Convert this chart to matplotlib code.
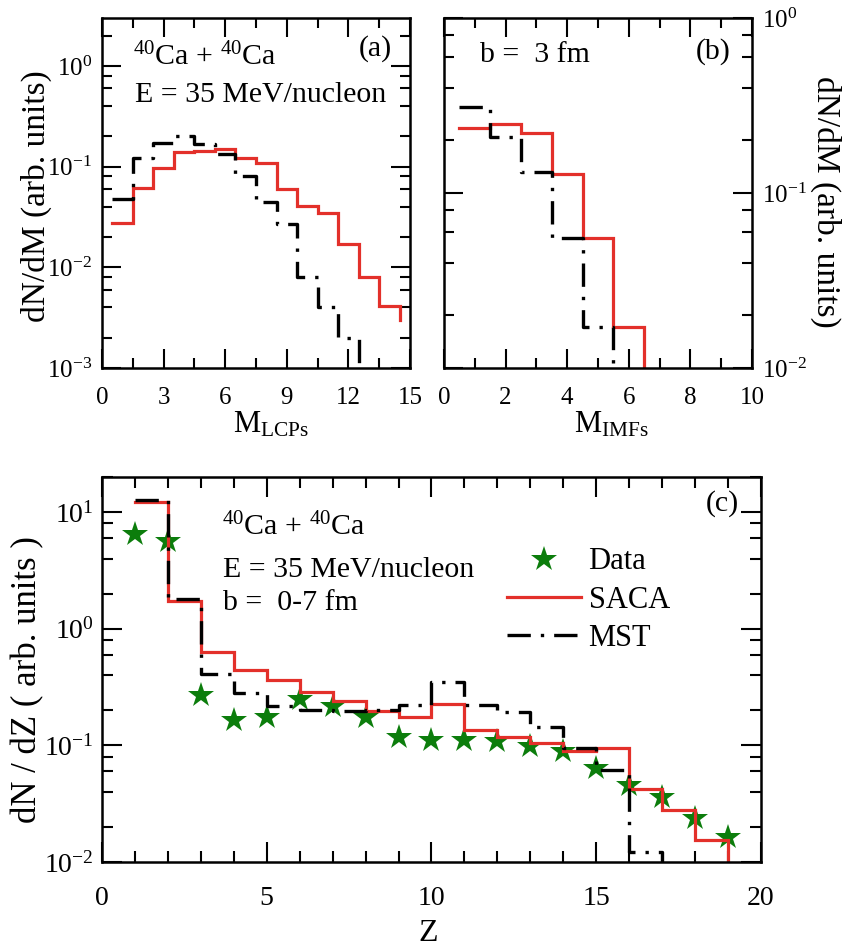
import numpy as np
import matplotlib
matplotlib.use("Agg")
import matplotlib.pyplot as plt
from matplotlib.ticker import LogLocator, MultipleLocator, NullFormatter, LogFormatterSciNotation

plt.rcParams["font.family"] = ["Liberation Serif", "DejaVu Serif"]
plt.rcParams["mathtext.fontset"] = "custom"
plt.rcParams["mathtext.rm"] = "Liberation Serif"
plt.rcParams["mathtext.it"] = "Liberation Serif:italic"
plt.rcParams["mathtext.bf"] = "Liberation Serif:bold"
plt.rcParams["axes.unicode_minus"] = False

# ---- multiplicity of light charged particles, b = 3 fm ----
lcp_saca_m = [1, 2, 3, 4, 5, 6, 7, 8, 9, 10, 11, 12, 13, 14, 15]
lcp_saca = [0.0277, 0.062, 0.098, 0.140, 0.144, 0.151, 0.123, 0.108,
            0.0605, 0.0406, 0.0348, 0.0172, 0.0081, 0.0041, 0.003]
lcp_mst_m = [1, 2, 3, 4, 5, 6, 7, 8, 9, 10, 11, 12, 13]
lcp_mst = [0.048, 0.123, 0.174, 0.200, 0.167, 0.133, 0.081, 0.0445,
           0.0267, 0.0081, 0.0040, 0.00198, 0.0005]

# ---- multiplicity of intermediate mass fragments, b = 3 fm ----
imf_saca_m = [1, 2, 3, 4, 5, 6, 7]
imf_saca = [0.234, 0.247, 0.219, 0.128, 0.055, 0.0171, 0.005]
imf_mst_m = [1, 2, 3, 4, 5, 6]
imf_mst = [0.311, 0.208, 0.132, 0.055, 0.0172, 0.005]

# ---- charge distribution, b = 0-7 fm ----
z_data = [1, 2, 3, 4, 5, 6, 7, 8, 9, 10, 11, 12, 13, 14, 15, 16, 17, 18, 19]
dndz_data = [6.47, 5.66, 0.272, 0.166, 0.174, 0.250, 0.216, 0.174, 0.117,
             0.112, 0.112, 0.110, 0.099, 0.090, 0.0638, 0.0458, 0.0364,
             0.0237, 0.0165]
z_saca = [1, 2, 3, 4, 5, 6, 7, 8, 9, 10, 11, 12, 13, 14, 15, 16, 17, 18, 19]
dndz_saca = [12.3, 1.73, 0.634, 0.447, 0.362, 0.287, 0.239, 0.196, 0.175,
             0.226, 0.136, 0.119, 0.105, 0.0904, 0.095, 0.042, 0.0279,
             0.0154, 0.005]
z_mst = [1, 2, 3, 4, 5, 6, 7, 8, 9, 10, 11, 12, 13, 14, 15, 16, 17]
dndz_mst = [12.8, 1.81, 0.413, 0.282, 0.219, 0.202, 0.199, 0.202, 0.223,
            0.348, 0.223, 0.192, 0.144, 0.095, 0.0617, 0.0123, 0.005]

RED = "#E3302A"
GREEN = "#0C7D0C"
SACA_KW = dict(color=RED, lw=2.3, solid_joinstyle="miter")
MST_KW = dict(color="black", lw=2.4, linestyle=(0, (7, 3, 1, 3)),
              dash_capstyle="butt")


def stairs(ax, centers, values, shift, **kw):
    ax.step(np.asarray(centers, float) + shift, values, where="post", **kw)


def style_axis(ax, labelsize, right_labels=False):
    for sp in ax.spines.values():
        sp.set_linewidth(1.8)
    ax.set_yscale("log")
    ax.yaxis.set_major_locator(LogLocator(base=10, numticks=10))
    ax.yaxis.set_major_formatter(LogFormatterSciNotation())
    ax.yaxis.set_minor_locator(LogLocator(base=10, subs=(2, 4, 6, 8), numticks=20))
    ax.yaxis.set_minor_formatter(NullFormatter())
    ax.tick_params(which="both", direction="in", top=True, right=True,
                   width=1.5, labelsize=labelsize)
    ax.tick_params(which="major", length=13.5)
    ax.tick_params(which="minor", length=7.5)
    if right_labels:
        ax.tick_params(axis="y", labelleft=False, labelright=True, pad=7)
    else:
        ax.tick_params(axis="y", pad=7)
    ax.tick_params(axis="x", pad=14)


fig = plt.figure(figsize=(8.43, 9.5), dpi=100)
ax_a = fig.add_axes([0.121, 0.6126, 0.3654, 0.3684])
ax_b = fig.add_axes([0.5267, 0.6126, 0.3654, 0.3684])
ax_c = fig.add_axes([0.121, 0.0926, 0.7817, 0.4053])

# (a) LCP multiplicity
stairs(ax_a, lcp_saca_m, lcp_saca, -0.5, **SACA_KW)
stairs(ax_a, lcp_mst_m, lcp_mst, -0.5, **MST_KW)
style_axis(ax_a, 18)
ax_a.set_xlim(0, 15)
ax_a.set_ylim(1e-3, 3)
ax_a.xaxis.set_major_locator(MultipleLocator(3))
ax_a.xaxis.set_minor_locator(MultipleLocator(1.5))
ax_a.set_xlabel(r"M$_{\mathrm{LCPs}}$", fontsize=22, va="center")
ax_a.xaxis.set_label_coords(0.55, -0.162)
ax_a.set_ylabel("dN/dM (arb. units)", fontsize=24, rotation=90,
                va="center", ha="center", rotation_mode="default")
ax_a.yaxis.set_label_coords(-0.214, 0.49)
ax_a.text(0.10, 0.889, r"$^{40}$Ca + $^{40}$Ca", transform=ax_a.transAxes,
          fontsize=21.5, va="center", ha="left")
ax_a.text(0.107, 0.78, "E = 35 MeV/nucleon", transform=ax_a.transAxes,
          fontsize=21.5, va="center", ha="left")
ax_a.text(0.887, 0.914, "(a)", transform=ax_a.transAxes,
          fontsize=21.5, va="center", ha="center")

# (b) IMF multiplicity
stairs(ax_b, imf_saca_m, imf_saca, -0.5, **SACA_KW)
stairs(ax_b, imf_mst_m, imf_mst, -0.5, **MST_KW)
style_axis(ax_b, 18, right_labels=True)
ax_b.set_xlim(0, 10)
ax_b.set_ylim(1e-2, 1)
ax_b.xaxis.set_major_locator(MultipleLocator(2))
ax_b.xaxis.set_minor_locator(MultipleLocator(1))
ax_b.set_xlabel(r"M$_{\mathrm{IMFs}}$", fontsize=22, va="center")
ax_b.xaxis.set_label_coords(0.545, -0.162)
ax_b.yaxis.set_label_position("right")
ax_b.set_ylabel("dN/dM (arb. units)", fontsize=24, rotation=270,
                va="center", ha="center", rotation_mode="default")
ax_b.yaxis.set_label_coords(1.24, 0.474)
ax_b.text(0.117, 0.894, "b =  3 fm", transform=ax_b.transAxes,
          fontsize=21.5, va="center", ha="left")
ax_b.text(0.873, 0.903, "(b)", transform=ax_b.transAxes,
          fontsize=21.5, va="center", ha="center")

# (c) charge distribution
ax_c.plot(z_data, dndz_data, linestyle="none", marker="*", markersize=19,
          color=GREEN, markeredgewidth=0, label="Data")
stairs(ax_c, z_saca, dndz_saca, 0.0, label="SACA", **SACA_KW)
stairs(ax_c, z_mst, dndz_mst, 0.0, label="MST", **MST_KW)
style_axis(ax_c, 20)
ax_c.tick_params(which="major", length=14.5)
ax_c.tick_params(which="minor", length=7.8)
ax_c.tick_params(axis="x", pad=17)
ax_c.tick_params(axis="y", pad=6)
ax_c.set_xlim(0, 20)
ax_c.set_ylim(1e-2, 20)
ax_c.xaxis.set_major_locator(MultipleLocator(5))
ax_c.xaxis.set_minor_locator(MultipleLocator(1))
ax_c.set_xlabel("Z", fontsize=23, va="baseline")
ax_c.xaxis.set_label_coords(0.495, -0.206)
ax_c.set_ylabel("dN / dZ ( arb. units )", fontsize=25, rotation=90,
                va="center", ha="center", rotation_mode="default")
ax_c.yaxis.set_label_coords(-0.112, 0.473)
ax_c.text(0.182, 0.870, r"$^{40}$Ca + $^{40}$Ca", transform=ax_c.transAxes,
          fontsize=21.5, va="center", ha="left")
ax_c.text(0.184, 0.758, "E = 35 MeV/nucleon", transform=ax_c.transAxes,
          fontsize=21.5, va="center", ha="left")
ax_c.text(0.184, 0.673, "b =  0-7 fm", transform=ax_c.transAxes,
          fontsize=21.5, va="center", ha="left")
ax_c.text(0.941, 0.932, "(c)", transform=ax_c.transAxes,
          fontsize=21.5, va="center", ha="center")
ax_c.legend(loc="upper left", bbox_to_anchor=(0.615, 0.817), frameon=False,
            fontsize=22, handlelength=2.4, handletextpad=0.26,
            labelspacing=0.30, borderpad=0, borderaxespad=0, numpoints=1)

fig.savefig("out.png", dpi=100)
